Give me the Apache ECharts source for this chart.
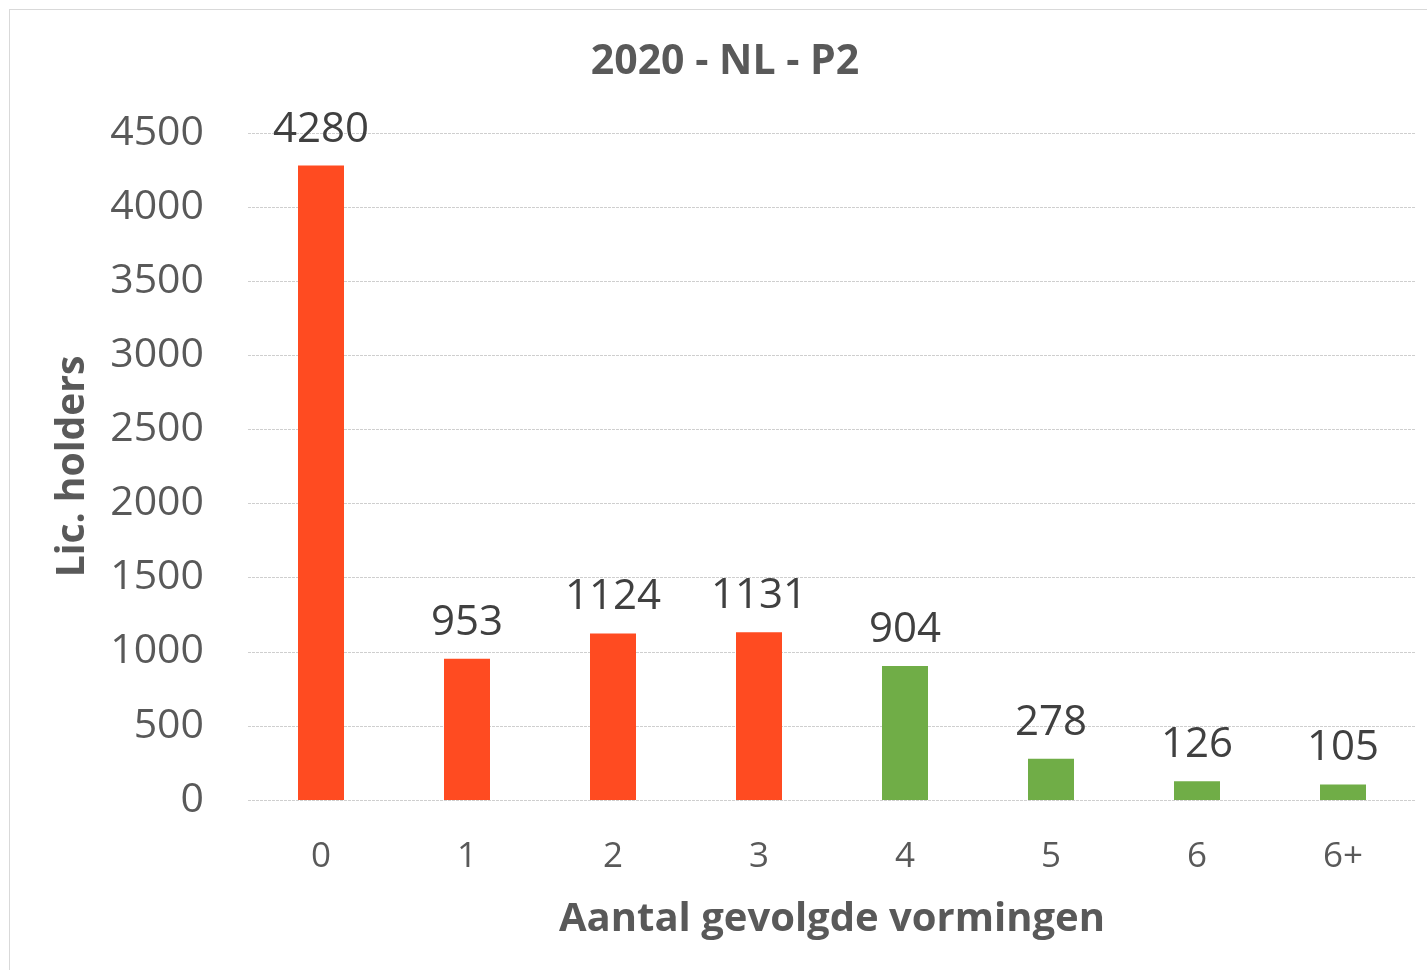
<!DOCTYPE html>
<html lang="nl">
<head>
    <meta charset="UTF-8">
    <title>2020 - NL - P2</title>
    <style>
        html, body { margin: 0; padding: 0; background: #fff; }
        #frame {
            position: absolute; left: 9px; top: 9px;
            width: 1440px; height: 980px;
            border: 1px solid #d9d9d9;
        }
        #myEcharts { position: absolute; left: 0; top: 0; width: 1427px; height: 970px; }
    </style>
    <script src="https://cdn.jsdelivr.net/npm/echarts@6/dist/echarts.min.js"></script>
</head>
<body>
<div id="frame"></div>
<div id="myEcharts"></div>
<script>
    // categories (number of followed trainings) and license holders
    var categories = ['0', '1', '2', '3', '4', '5', '6', '6+'];
    var holders = [4280, 953, 1124, 1131, 904, 278, 126, 105];
    var yTicks = [0, 500, 1000, 1500, 2000, 2500, 3000, 3500, 4000, 4500];

    // first bars red, rest green
    var redCount = 4;
    var red = '#FF4B21';
    var green = '#70AD47';
    var font = '"Open Sans", "Liberation Sans", sans-serif';

    var myChart = echarts.init(document.getElementById('myEcharts'));
    var option = {
        animation: false,
        title: {
            text: '2020 - NL - P2',
            left: 720,
            top: 37,
            textAlign: 'center',
            textStyle: { fontFamily: font, fontSize: 41, fontWeight: 'bold', color: '#595959' }
        },
        grid: { left: 248, right: 11, top: 133, bottom: 170 },
        xAxis: {
            type: 'category',
            data: categories,
            name: 'Aantal gevolgde vormingen',
            nameLocation: 'middle',
            nameGap: 100,
            nameTextStyle: { fontFamily: font, fontSize: 40, fontWeight: 'bold', color: '#595959' },
            axisLine: { show: false },
            axisTick: { show: false },
            axisLabel: { fontFamily: font, fontSize: 35, color: '#595959', margin: 40 }
        },
        yAxis: {
            type: 'value',
            min: yTicks[0],
            max: yTicks[yTicks.length - 1],
            interval: yTicks[1] - yTicks[0],
            name: 'Lic. holders',
            nameLocation: 'middle',
            nameGap: 156,
            nameTextStyle: { fontFamily: font, fontSize: 39, fontWeight: 'bold', color: '#595959' },
            axisLine: { show: false },
            axisTick: { show: false },
            axisLabel: {
                fontFamily: font, fontSize: 41, color: '#595959', margin: 44,
                formatter: function (v) { return String(v); }
            },
            splitLine: { lineStyle: { color: '#cfcfcf', width: 1, type: [3, 1] } }
        },
        series: [{
            type: 'bar',
            data: holders,
            barWidth: 46,
            itemStyle: {
                color: function (p) { return p.dataIndex < redCount ? red : green; }
            },
            label: {
                show: true,
                position: 'top',
                distance: 15,
                fontFamily: font,
                fontSize: 42,
                color: '#404040'
            }
        }]
    };
    myChart.setOption(option);
</script>
</body>
</html>
